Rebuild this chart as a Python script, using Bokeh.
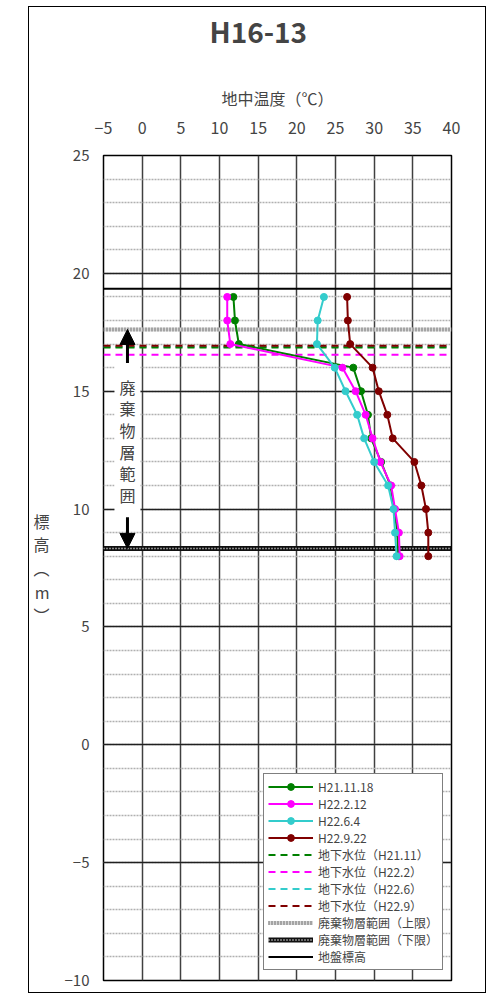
from bokeh.plotting import figure
from bokeh.models import FixedTicker, Legend, LegendItem, Label, Arrow, NormalHead
from bokeh.embed import file_html
from bokeh.resources import INLINE

FONT = "Noto Sans CJK JP"

# ---------------- data ----------------
TITLE = "H16-13"
X_LABEL = "地中温度（℃）"
Y_LABEL = "標\n高\n︵\nm\n︶"
ZONE_LABEL = "廃\n棄\n物\n層\n範\n囲"

X_MIN, X_MAX = -5, 40
Y_MIN, Y_MAX = -10, 25
x_ticks = [-5, 0, 5, 10, 15, 20, 25, 30, 35, 40]
y_ticks = [-10, -5, 0, 5, 10, 15, 20, 25]
y_minor = list(range(-10, 26))
x_tick_labels = {-5: "−5"}
y_tick_labels = {-5: "−5", -10: "−10"}

depth = [19, 18, 17, 16, 15, 14, 13, 12, 11, 10, 9, 8]
t_h21_11_18 = [11.8, 12.0, 12.5, 27.3, 28.3, 29.2, 29.6, 30.9, 32.1, 32.6, 33.0, 33.1]
t_h22_2_12 = [11.0, 11.0, 11.4, 25.9, 27.6, 28.9, 29.8, 30.8, 32.2, 32.7, 33.2, 33.3]
t_h22_6_4 = [23.5, 22.7, 22.6, 24.9, 26.3, 27.8, 28.7, 30.0, 31.8, 32.5, 32.7, 32.9]
t_h22_9_22 = [26.5, 26.6, 26.9, 29.8, 30.6, 31.7, 32.4, 35.2, 36.1, 36.7, 37.0, 37.0]
series_names = ["H21.11.18", "H22.2.12", "H22.6.4", "H22.9.22"]

gw_names = ["地下水位（H21.11）", "地下水位（H22.2）", "地下水位（H22.6）", "地下水位（H22.9）"]
gw_levels = [16.85, 16.55, 16.88, 16.93]

WASTE_TOP = 17.62
WASTE_BOTTOM = 8.33
GROUND = 19.35
waste_names = ["廃棄物層範囲（上限）", "廃棄物層範囲（下限）"]
ground_name = "地盤標高"

ARROW_X = -1.9
ARROW_UP_START = 16.2
ARROW_DOWN_START = 9.65
ZONE_LABEL_Y = 12.9

GREEN, MAGENTA, CYAN, DARKRED = "#008000", "#FF00FF", "#33CCCC", "#800000"

# ---------------- figure ----------------
p = figure(width=456, height=985, x_range=(X_MIN, X_MAX), y_range=(Y_MIN, Y_MAX),
           x_axis_location="above", output_backend="svg", toolbar_location=None,
           min_border_left=74, min_border_right=34, min_border_top=148,
           min_border_bottom=12)
p.margin = (7, 0, 0, 29)
p.styles = {"outline": "1px solid black"}
p.outline_line_color = "black"
p.outline_line_width = 1.5
p.background_fill_color = "white"
p.border_fill_color = "white"

# title text followed by an empty line so that it sits higher above the axis
p.title.text = TITLE + "\n"
p.title.align = "left"
p.title.offset = 106
p.title.standoff = 0
p.title.text_line_height = 0.8
p.title.text_font = FONT
p.title.text_font_size = "28px"
p.title.text_font_style = "bold"

xa = p.xaxis[0]
xa.ticker = FixedTicker(ticks=x_ticks)
xa.major_label_overrides = x_tick_labels
xa.axis_label = X_LABEL
xa.axis_label_text_font = FONT
xa.axis_label_text_font_style = "normal"
xa.axis_label_text_font_size = "16px"
xa.axis_label_standoff = 9
xa.major_label_text_font = FONT
xa.major_label_text_font_size = "16px"
xa.major_label_standoff = 22
xa.major_tick_out = 0
xa.major_tick_in = 0
xa.minor_tick_out = 0
xa.axis_line_color = None

ya = p.yaxis[0]
ya.ticker = FixedTicker(ticks=y_ticks, minor_ticks=y_minor)
ya.major_label_overrides = y_tick_labels
ya.major_label_text_font = FONT
ya.major_label_text_font_size = "15px"
ya.major_label_standoff = 14
ya.major_tick_out = 0
ya.major_tick_in = 0
ya.minor_tick_out = 0
ya.minor_tick_in = 0
ya.axis_line_color = None
ya.axis_label = Y_LABEL
ya.axis_label_orientation = "horizontal"
ya.axis_label_text_font = FONT
ya.axis_label_text_font_style = "normal"
ya.axis_label_text_font_size = "16px"
ya.axis_label_text_line_height = 0.98
ya.axis_label_standoff = 12

p.xgrid.ticker = FixedTicker(ticks=x_ticks)
p.xgrid.grid_line_color = "#404040"
p.xgrid.grid_line_width = 1.5
p.ygrid.ticker = FixedTicker(ticks=y_ticks, minor_ticks=y_minor)
p.ygrid.grid_line_color = "#202020"
p.ygrid.grid_line_width = 1.5
p.ygrid.minor_grid_line_color = "#b0b0b0"
p.ygrid.minor_grid_line_width = 1.5
p.ygrid.minor_grid_line_dash = "2 1"

xs = [X_MIN, X_MAX]

# groundwater levels
gw_colors = [GREEN, MAGENTA, CYAN, DARKRED]
gw_r = {}
for name, lvl, c in sorted(zip(gw_names, gw_levels, gw_colors), key=lambda t: t[2] != CYAN):
    gw_r[name] = p.line(xs, [lvl, lvl], line_color=c, line_width=2, line_dash="7 5")

# waste range lines
up1 = p.line(xs, [WASTE_TOP, WASTE_TOP], line_color="#d8d8d8", line_width=4)
up2 = p.line(xs, [WASTE_TOP, WASTE_TOP], line_color="#707070", line_width=4, line_dash="1 2")
lo1 = p.line(xs, [WASTE_BOTTOM, WASTE_BOTTOM], line_color="#101010", line_width=5)
lo2 = p.line(xs, [WASTE_BOTTOM, WASTE_BOTTOM], line_color="white", line_width=1.5, line_dash="1 2")
gr = p.line(xs, [GROUND, GROUND], line_color="black", line_width=2)

# temperature profiles
series = [t_h21_11_18, t_h22_2_12, t_h22_6_4, t_h22_9_22]
data_r = []
for vals, c in zip(series, gw_colors):
    l = p.line(vals, depth, line_color=c, line_width=2)
    s = p.scatter(vals, depth, size=7, fill_color=c, line_color=c)
    data_r.append([l, s])

# zone label and arrows
p.add_layout(Label(x=ARROW_X, y=ZONE_LABEL_Y, text=ZONE_LABEL, text_align="center",
                   text_baseline="middle", text_font=FONT, text_font_size="16px",
                   text_line_height=0.9, background_fill_color="white",
                   padding=(5, 10)))
head_kw = dict(size=15, fill_color="black", line_color="black")
p.add_layout(Arrow(end=NormalHead(**head_kw), x_start=ARROW_X, y_start=ARROW_UP_START,
                   x_end=ARROW_X, y_end=WASTE_TOP, line_width=3, line_color="black"))
p.add_layout(Arrow(end=NormalHead(**head_kw), x_start=ARROW_X, y_start=ARROW_DOWN_START,
                   x_end=ARROW_X, y_end=WASTE_BOTTOM, line_width=3, line_color="black"))

# legend
items = [LegendItem(label=n, renderers=r) for n, r in zip(series_names, data_r)]
items += [LegendItem(label=n, renderers=[gw_r[n]]) for n in gw_names]
items += [LegendItem(label=waste_names[0], renderers=[up1, up2]),
          LegendItem(label=waste_names[1], renderers=[lo1, lo2]),
          LegendItem(label=ground_name, renderers=[gr])]
legend = Legend(items=items, location=(160, 10), label_text_font=FONT,
                label_text_font_size="12px", glyph_width=45, glyph_height=17,
                label_height=17, spacing=0, padding=4, margin=0, label_standoff=5,
                border_line_color="black", border_line_width=1,
                background_fill_color="white", background_fill_alpha=1.0)
p.add_layout(legend)

open("out.html", "w").write(file_html(p, INLINE))
